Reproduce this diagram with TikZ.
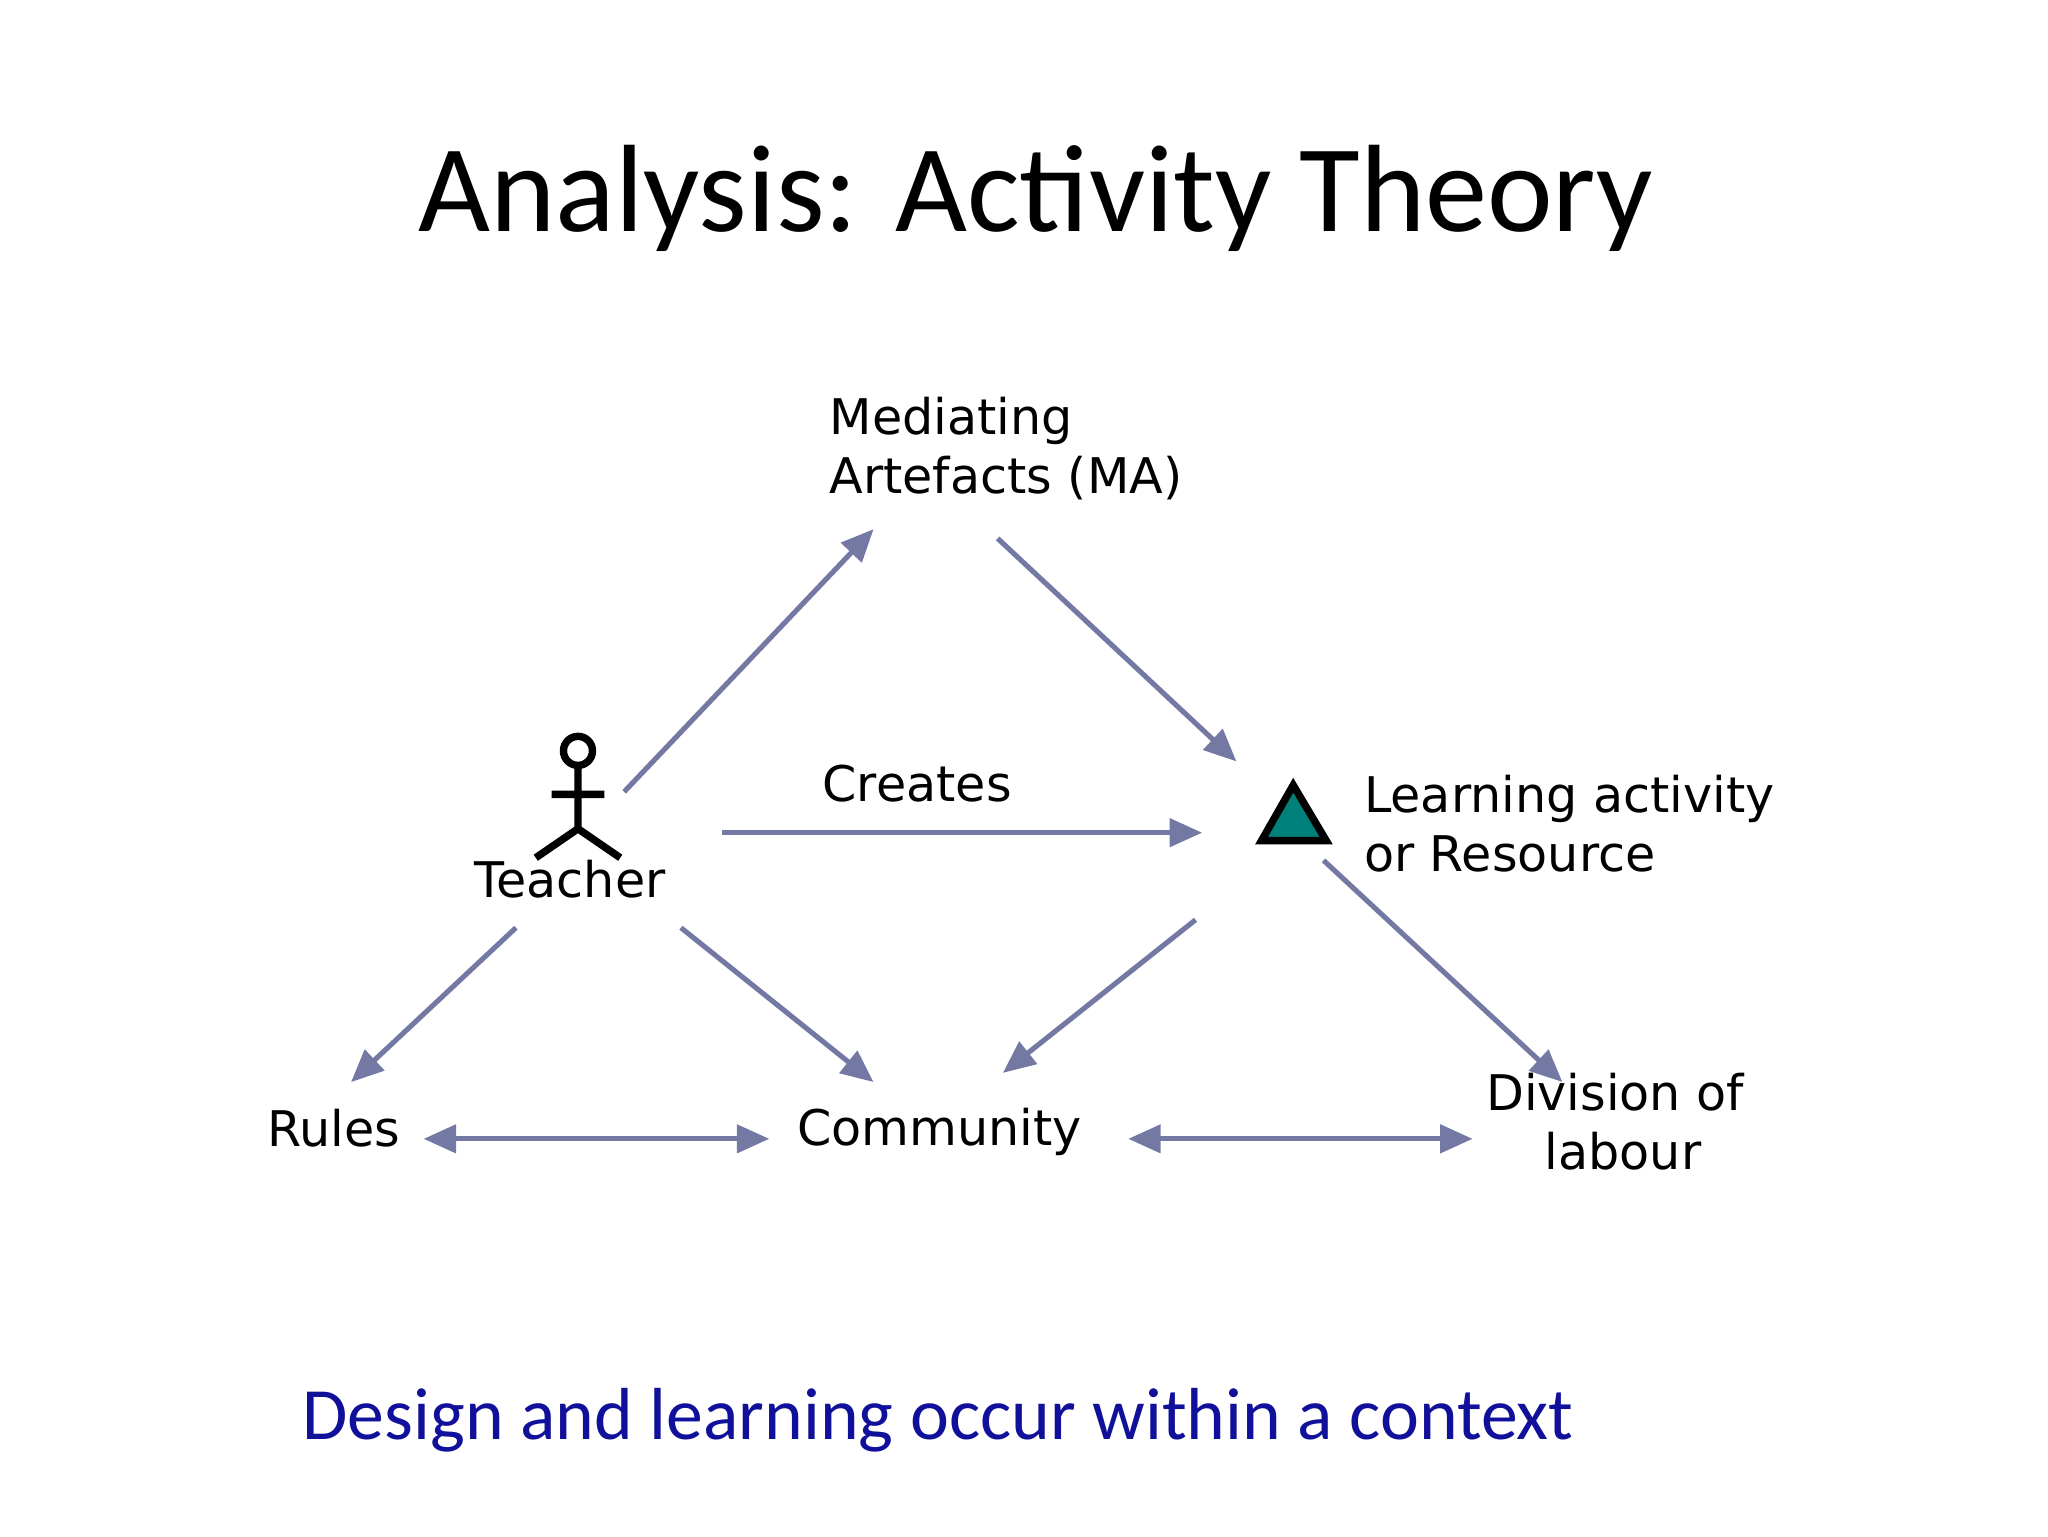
\documentclass[tikz,border=0pt]{standalone}
\usepackage{fontspec}
\setmainfont{DejaVu Sans}
\newfontfamily\calib{Carlito}
\usetikzlibrary{arrows.meta}
\definecolor{arr}{HTML}{7379A3}
\definecolor{tealf}{HTML}{00807A}
\definecolor{navyt}{HTML}{10109A}
\begin{document}
\begin{tikzpicture}[x=0.1mm,y=-0.1mm,
  lab/.style={font=\fontsize{10.6}{12.8}\selectfont,inner sep=0,align=center},
  con/.style={draw=arr,line width=1.1pt,-{Triangle[length=7pt,width=6pt]}},
  bicon/.style={draw=arr,line width=1.1pt,{Triangle[length=7pt,width=6pt]}-{Triangle[length=7pt,width=6pt]}}]
\useasboundingbox (0,0) rectangle (1552,1164);
\node[inner sep=0] (title) at (785,150) {\calib\fontsize{26.8}{32}\selectfont Analysis: Activity Theory};
\node[lab,align=left,anchor=west] (ma) at (628,340) {Mediating\\Artefacts (MA)};
\node[lab] (creates) at (695,594) {Creates};
\node[lab] (teacher) at (432,666) {Teacher};
\node[lab,align=left,anchor=west] (la) at (1033,624) {Learning activity\\or Resource};
\node[lab] (rules) at (253,855) {Rules};
\node[lab] (comm) at (712,858) {Community};
\node[lab] (div) at (1224,850) {Division of\\\ labour};
\node[inner sep=0,text=navyt] (bottom) at (711,1076) {\calib\fontsize{15.9}{20}\selectfont Design and learning occur within a context};
% stick figure
\draw[line width=1.6pt] (438,569) circle (11);
\draw[line width=1.6pt] (438,580) -- (438,628) (418,602) -- (458,602) (406,650) -- (438,628) -- (470,650);
% triangle
\draw[line width=1.6pt,fill=tealf] (956,637) -- (1005,637) -- (980,595) -- cycle;
% connector ends
\coordinate (t1) at (473,600); \coordinate (m1) at (662,401);
\coordinate (m2) at (756,408); \coordinate (l1) at (937,577);
\coordinate (t2) at (547,631); \coordinate (l2) at (911,631);
\coordinate (t3) at (391,703); \coordinate (r1) at (266,820);
\coordinate (t4) at (516,703); \coordinate (c1) at (662,820);
\coordinate (l3) at (906,697); \coordinate (c2) at (760,813);
\coordinate (l4) at (1003,652); \coordinate (d1) at (1184,820);
\coordinate (r2) at (321,863); \coordinate (c3) at (583,863);
\coordinate (c4) at (855,863); \coordinate (d2) at (1116,863);
\draw[con] (t1) -- (m1);
\draw[con] (m2) -- (l1);
\draw[con] (t2) -- (l2);
\draw[con] (t3) -- (r1);
\draw[con] (t4) -- (c1);
\draw[con] (l3) -- (c2);
\draw[con] (l4) -- (d1);
\draw[bicon] (r2) -- (c3);
\draw[bicon] (c4) -- (d2);
\end{tikzpicture}
\end{document}
